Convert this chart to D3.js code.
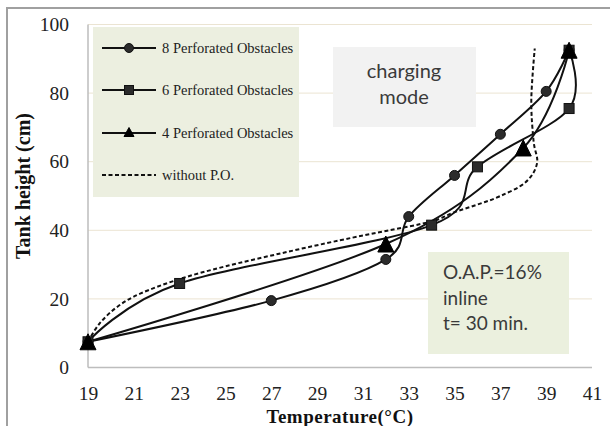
<!DOCTYPE html>
<html>
<head>
<meta charset="utf-8">
<script src="https://cdn.jsdelivr.net/npm/d3@7"></script>
<style>
  html, body { margin: 0; padding: 0; background: #fff; }
  svg { display: block; }
</style>
</head>
<body>
<svg id="chart" width="610" height="426"></svg>
<script>
// Temperature profiles along the tank height, charging mode
const xTicks = [19, 21, 23, 25, 27, 29, 31, 33, 35, 37, 39, 41];
const yTicks = [0, 20, 40, 60, 80, 100];

const temp8 = [19, 27, 32, 33, 35, 37, 39, 40];
const height8 = [7.5, 19.5, 31.5, 44, 56, 68, 80.5, 92.5];

const temp6 = [19, 23, 34, 36, 40, 40];
const height6 = [7.5, 24.5, 41.5, 58.5, 75.5, 92.5];

const temp4 = [19, 32, 38, 40];
const height4 = [7.5, 36, 64, 92.5];

const tempRef = [19, 19.5, 20.3, 21.3, 23, 25, 27.5, 30, 32, 34, 35, 36, 37, 38.1, 38.6, 38.45, 38.35, 38.5];
const heightRef = [7.5, 12.8, 17.8, 21.6, 25.8, 29.5, 33.4, 37.1, 39.8, 42.6, 45.3, 47.5, 50, 54, 59.5, 66, 78, 93];

const legendLabels = ["8 Perforated Obstacles", "6 Perforated Obstacles", "4 Perforated Obstacles", "without P.O."];

const svg = d3.select("#chart");
const x = d3.scaleLinear().domain([19, 41]).range([88, 592]);
const y = d3.scaleLinear().domain([0, 100]).range([367.5, 24.5]);

const serif = "'Liberation Serif', 'Times New Roman', serif";
const sans = "Lato, 'Noto Sans', sans-serif";

// outer frame
svg.append("path")
  .attr("d", "M7,426 V8 H610")
  .attr("fill", "none").attr("stroke", "#a0a0a0").attr("stroke-width", 2);

// horizontal gridlines
svg.append("g").selectAll("line").data(yTicks.filter(v => v > 0)).join("line")
  .attr("x1", x(19)).attr("x2", x(41))
  .attr("y1", d => y(d)).attr("y2", d => y(d))
  .attr("stroke", "#ebe4d2").attr("stroke-width", 1);

// axes lines
svg.append("line").attr("x1", x(19)).attr("x2", x(19)).attr("y1", y(100)).attr("y2", y(0))
  .attr("stroke", "#bdbdbd").attr("stroke-width", 1.5);
svg.append("line").attr("x1", x(19)).attr("x2", x(41)).attr("y1", y(0)).attr("y2", y(0))
  .attr("stroke", "#bdbdbd").attr("stroke-width", 1.5);

// tick labels via d3 axes
const xAxis = svg.append("g").attr("transform", `translate(0,${y(0)})`)
  .call(d3.axisBottom(x).tickValues(xTicks).tickSize(0).tickPadding(18.7).tickFormat(d3.format("d")));
const yAxis = svg.append("g").attr("transform", `translate(${x(19)},0)`)
  .call(d3.axisLeft(y).tickValues(yTicks).tickSize(0).tickPadding(19).tickFormat(d3.format("d")));
[xAxis, yAxis].forEach(g => {
  g.select(".domain").remove();
  g.selectAll("text").attr("font-family", serif).attr("font-size", 19.5).attr("fill", "#222");
});

// axis titles
svg.append("text").attr("x", 340).attr("y", 422.5).attr("text-anchor", "middle")
  .attr("font-family", serif).attr("font-weight", "bold").attr("font-size", 19)
  .attr("letter-spacing", 0.5).attr("fill", "#111")
  .text("Temperature(°C)");
svg.append("text").attr("transform", "translate(30,186) rotate(-90)").attr("text-anchor", "middle")
  .attr("font-family", serif).attr("font-weight", "bold").attr("font-size", 20).attr("fill", "#111")
  .text("Tank height (cm)");

// legend box
const lg = svg.append("g");
lg.append("rect").attr("x", 93).attr("y", 27).attr("width", 206).attr("height", 170).attr("fill", "#ecefe0");

// annotation boxes
svg.append("rect").attr("x", 333).attr("y", 47).attr("width", 143).attr("height", 80).attr("fill", "#f2f2f2");
svg.append("text").attr("x", 404).attr("y", 78).attr("text-anchor", "middle")
  .attr("font-family", sans).attr("font-size", 20).attr("fill", "#3a3a3a").text("charging");
svg.append("text").attr("x", 404).attr("y", 104).attr("text-anchor", "middle")
  .attr("font-family", sans).attr("font-size", 20).attr("fill", "#3a3a3a").text("mode");

svg.append("rect").attr("x", 428).attr("y", 252).attr("width", 141).attr("height", 102).attr("fill", "#ebf0de");
["O.A.P.=16%", "inline", "t= 30 min."].forEach((t, i) => {
  svg.append("text").attr("x", 443).attr("y", 279 + i * 25.5)
    .attr("font-family", sans).attr("font-size", 19).attr("fill", "#3a3a3a").text(t);
});

// series
const line = d3.line().x(d => x(d[0])).y(d => y(d[1])).curve(d3.curveCardinal.tension(0));
const zip = (a, b) => a.map((v, i) => [v, b[i]]);

const plot = svg.append("g");
plot.append("path").attr("d", line(zip(tempRef, heightRef)))
  .attr("fill", "none").attr("stroke", "#111").attr("stroke-width", 2).attr("stroke-dasharray", "4,2.5");
plot.append("path").attr("d", line(zip(temp8, height8)))
  .attr("fill", "none").attr("stroke", "#111").attr("stroke-width", 2);
plot.append("path").attr("d", line(zip(temp6, height6)))
  .attr("fill", "none").attr("stroke", "#111").attr("stroke-width", 2);
plot.append("path").attr("d", line(zip(temp4, height4)))
  .attr("fill", "none").attr("stroke", "#111").attr("stroke-width", 2);

const markFill = "#2b2b2b";
function circle(g, cx, cy, r) {
  g.append("circle").attr("cx", cx).attr("cy", cy).attr("r", r)
    .attr("fill", markFill).attr("stroke", "#111").attr("stroke-width", 1);
}
function square(g, cx, cy, s) {
  g.append("rect").attr("x", cx - s / 2).attr("y", cy - s / 2).attr("width", s).attr("height", s)
    .attr("fill", markFill).attr("stroke", "#111").attr("stroke-width", 1);
}
function triangle(g, cx, cy, w, h) {
  g.append("path").attr("d", `M${cx},${cy - h / 2} L${cx + w / 2},${cy + h / 2} L${cx - w / 2},${cy + h / 2} Z`)
    .attr("fill", "#000").attr("stroke", "#000").attr("stroke-width", 1);
}

zip(temp8, height8).forEach(d => circle(plot, x(d[0]), y(d[1]), 5));
zip(temp6, height6).forEach(d => square(plot, x(d[0]), y(d[1]), 10));
zip(temp4, height4).forEach(d => triangle(plot, x(d[0]), y(d[1]), 16, 16));

// legend entries
const rowY = [48, 90, 133, 175];
legendLabels.forEach((label, i) => {
  const ly = rowY[i];
  const ln = lg.append("line").attr("x1", 102).attr("x2", 156).attr("y1", ly).attr("y2", ly)
    .attr("stroke", "#111").attr("stroke-width", 2);
  if (i === 3) ln.attr("stroke-dasharray", "4,2.5");
  if (i === 0) circle(lg, 129, ly, 4.5);
  if (i === 1) square(lg, 129, ly, 9);
  if (i === 2) triangle(lg, 129, ly - 1, 10, 9);
  lg.append("text").attr("x", 162).attr("y", ly + 5)
    .attr("font-family", serif).attr("font-size", 14.5).attr("fill", "#222").text(label);
});
</script>
</body>
</html>
